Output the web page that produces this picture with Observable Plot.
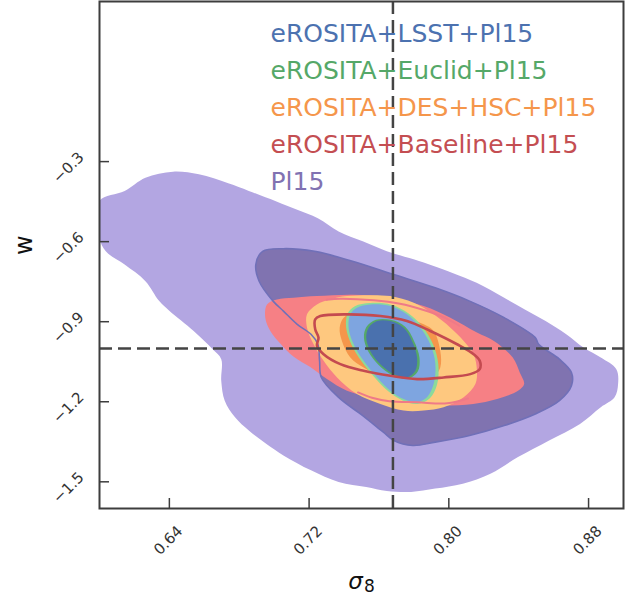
<!DOCTYPE html>
<html><head><meta charset="utf-8">
<script src="https://cdn.jsdelivr.net/npm/d3@7"></script>
<script src="https://cdn.jsdelivr.net/npm/@observablehq/plot@0.6"></script>
<style>body{margin:0;background:#fff} svg{display:block}</style>
</head><body><div id="chart"></div><script>
// axis ticks
const sigma8Ticks = [0.64, 0.72, 0.80, 0.88];
const wTicks = [-1.5, -1.2, -0.9, -0.6, -0.3];
// fiducial values
const fiducialSigma8 = [0.768];
const fiducialW = [-1.0];
// legend
const legendLabels = ["eROSITA+LSST+Pl15", "eROSITA+Euclid+Pl15", "eROSITA+DES+HSC+Pl15", "eROSITA+Baseline+Pl15", "Pl15"];
const legendColors = ["#4c72b0", "#55a868", "#f5964b", "#c44e52", "#8172b2"];

// contours [sigma8, w]
const pl15Outer = [[0.600,-0.447],[0.6144,-0.4098],[0.6263,-0.3601],[0.6421,-0.3377],[0.6569,-0.3477],[0.6737,-0.3813],[0.6855,-0.4098],[0.7013,-0.4497],[0.7132,-0.4808],[0.7250,-0.5119],[0.7369,-0.5616],[0.7507,-0.5989],[0.7645,-0.6362],[0.7803,-0.6673],[0.8021,-0.7171],[0.8159,-0.7544],[0.8317,-0.8104],[0.8435,-0.8539],[0.8554,-0.8974],[0.8672,-0.9472],[0.8771,-0.9969],[0.8870,-1.0342],[0.8959,-1.0778],[0.8969,-1.1337],[0.8949,-1.1835],[0.8870,-1.2208],[0.8751,-1.2830],[0.8574,-1.3452],[0.8396,-1.4074],[0.8238,-1.4696],[0.8080,-1.5069],[0.7922,-1.5255],[0.7784,-1.5380],[0.7645,-1.5342],[0.7527,-1.5193],[0.7369,-1.5007],[0.7211,-1.4571],[0.7053,-1.4012],[0.6954,-1.3576],[0.6855,-1.3079],[0.6776,-1.2581],[0.6717,-1.1959],[0.6697,-1.1213],[0.6697,-1.0405],[0.6648,-1.0031],[0.6539,-0.9347],[0.6401,-0.8601],[0.6342,-0.8228],[0.6263,-0.7482],[0.6144,-0.6860],[0.6036,-0.6362],[0.600,-0.5865]];
const pl15Inner = [[0.6895,-0.6860],[0.6934,-0.6362],[0.7053,-0.6263],[0.7231,-0.6362],[0.7448,-0.6735],[0.7685,-0.7233],[0.7922,-0.7731],[0.8119,-0.8228],[0.8317,-0.8850],[0.8495,-0.9596],[0.8514,-0.9845],[0.8633,-1.0405],[0.8702,-1.0902],[0.8702,-1.1400],[0.8633,-1.1959],[0.8495,-1.2457],[0.8317,-1.2892],[0.8119,-1.3265],[0.7922,-1.3514],[0.7793,-1.3638],[0.7685,-1.3452],[0.7625,-1.3141],[0.7507,-1.2519],[0.7369,-1.1835],[0.7270,-1.1089],[0.7260,-1.0467],[0.7250,-0.9845],[0.7211,-0.9472],[0.7132,-0.9099],[0.7053,-0.8601],[0.6994,-0.8228],[0.6914,-0.7482]];
const baselineOuter = [[0.6959,-0.8352],[0.7016,-0.8165],[0.7111,-0.8103],[0.7245,-0.8041],[0.7450,-0.7990],[0.7650,-0.8080],[0.7856,-0.8414],[0.8009,-0.8850],[0.8161,-0.9409],[0.8258,-0.9720],[0.8366,-1.0342],[0.8406,-1.0902],[0.8431,-1.1337],[0.8396,-1.1586],[0.8276,-1.1897],[0.8139,-1.2083],[0.7970,-1.2146],[0.7800,-1.2100],[0.7600,-1.1900],[0.7417,-1.1586],[0.7302,-1.1150],[0.7207,-1.0700],[0.7110,-1.0300],[0.7040,-0.9850],[0.6978,-0.9347],[0.6949,-0.8850]];
const baselineInner = [[0.7235,-0.8912],[0.7264,-0.8787],[0.7417,-0.8725],[0.7608,-0.8787],[0.7760,-0.8974],[0.7894,-0.9347],[0.8047,-0.9845],[0.8142,-1.0218],[0.8177,-1.0466],[0.8177,-1.0777],[0.8123,-1.0964],[0.7970,-1.1088],[0.7818,-1.1150],[0.7665,-1.1026],[0.7512,-1.0840],[0.7379,-1.0591],[0.7283,-1.0218],[0.7245,-0.9907],[0.7254,-0.9596],[0.7235,-0.9285]];
const baselineEdgeTop = [[0.7300,-0.8180],[0.7380,-0.8140],[0.7570,-0.8200],[0.7720,-0.8330],[0.7856,-0.8560],[0.7960,-0.8800],[0.8060,-0.9150]];
const baselineEdgeBottom = [[0.7480,-1.1650],[0.7560,-1.1850],[0.7660,-1.1980],[0.7820,-1.2020],[0.7990,-1.2060],[0.8110,-1.1880]];
const desOuter = [[0.7188,-0.8725],[0.7245,-0.8352],[0.7321,-0.8165],[0.7417,-0.8041],[0.7550,-0.8004],[0.7665,-0.8041],[0.7799,-0.8290],[0.7913,-0.8725],[0.8009,-0.9223],[0.8085,-0.9720],[0.8142,-1.0218],[0.8161,-1.0840],[0.8152,-1.1337],[0.8085,-1.1835],[0.7970,-1.2208],[0.7856,-1.2332],[0.7741,-1.2332],[0.7608,-1.2083],[0.7474,-1.1710],[0.7360,-1.1088],[0.7283,-1.0466],[0.7226,-0.9845],[0.7188,-0.9223]];
const desInner = [[0.7398,-0.8850],[0.7455,-0.8663],[0.7550,-0.8601],[0.7741,-0.8850],[0.7856,-0.9099],[0.7913,-0.9347],[0.7951,-1.0093],[0.7951,-1.0715],[0.7913,-1.1088],[0.7856,-1.1275],[0.7741,-1.1337],[0.7627,-1.1088],[0.7512,-1.0715],[0.7436,-1.0342],[0.7388,-0.9720],[0.7375,-0.9223]];
const lsstOuter = [[0.7436,-0.8725],[0.7474,-0.8476],[0.7550,-0.8352],[0.7665,-0.8414],[0.7760,-0.8725],[0.7837,-0.9223],[0.7894,-0.9845],[0.7923,-1.0591],[0.7913,-1.1337],[0.7875,-1.1835],[0.7818,-1.2021],[0.7741,-1.1897],[0.7665,-1.1586],[0.7589,-1.1088],[0.7512,-1.0466],[0.7455,-0.9845],[0.7426,-0.9223]];
const euclidOuter = [[0.7420,-0.8700],[0.7462,-0.8420],[0.7550,-0.8300],[0.7670,-0.8360],[0.7770,-0.8690],[0.7850,-0.9200],[0.7910,-0.9850],[0.7940,-1.0600],[0.7932,-1.1370],[0.7890,-1.1880],[0.7820,-1.2080],[0.7735,-1.1950],[0.7655,-1.1620],[0.7578,-1.1110],[0.7500,-1.0480],[0.7442,-0.9850],[0.7412,-0.9220]];
const lsstInner = [[0.7541,-0.9223],[0.7589,-0.8974],[0.7665,-0.8974],[0.7741,-0.9223],[0.7789,-0.9720],[0.7818,-1.0342],[0.7808,-1.0840],[0.7760,-1.1088],[0.7684,-1.0964],[0.7608,-1.0591],[0.7550,-1.0093],[0.7527,-0.9596]];
const euclidInner = [[0.7528,-0.9200],[0.7582,-0.8930],[0.7668,-0.8930],[0.7750,-0.9190],[0.7800,-0.9710],[0.7832,-1.0350],[0.7822,-1.0870],[0.7765,-1.1140],[0.7678,-1.1010],[0.7598,-1.0620],[0.7538,-1.0110],[0.7514,-0.9600]];

const fillShape = (pts, color) => Plot.line(pts, {fill: color, stroke: "none", curve: "catmull-rom-closed", clip: true});
const strokeShape = (pts, color, w, closed = true) => Plot.line(pts, {stroke: color, strokeWidth: w, fill: "none", curve: closed ? "catmull-rom-closed" : "catmull-rom", clip: true});
const axisColor = "#3d3d3d";

const chart = Plot.plot({
  width: 632, height: 598,
  marginLeft: 99, marginRight: 9, marginTop: 1, marginBottom: 90,
  x: {domain: [0.6, 0.9]},
  y: {domain: [-1.6, 0.3]},
  style: {fontFamily: "DejaVu Sans", background: "white"},
  marks: [
    fillShape(pl15Outer, "#b3a6e2"),
    fillShape(pl15Inner, "#8073b0"),
    fillShape(baselineOuter, "#f68085"),
    fillShape(desOuter, "#fec87f"),
    fillShape(desInner, "#f5964b"),
    fillShape(euclidOuter, "#8bda9b"),
    fillShape(lsstOuter, "#7ea5e0"),
    fillShape(euclidInner, "#55a868"),
    fillShape(lsstInner, "#4a71ae"),
    strokeShape(baselineEdgeTop, "#ef7a88", 2, false),
    strokeShape(baselineEdgeBottom, "#ef7a88", 2, false),
    strokeShape(pl15Inner, "#7070b8", 1.6),
    strokeShape(baselineInner, "#c44a50", 2.6),
    Plot.ruleX(fiducialSigma8, {stroke: "#444", strokeWidth: 2.5, strokeDasharray: "13,6"}),
    Plot.ruleY(fiducialW, {stroke: "#444", strokeWidth: 2.5, strokeDasharray: "13,6"}),
    Plot.frame({stroke: axisColor, strokeWidth: 2}),
    Plot.axisX(sigma8Ticks, {anchor: "bottom", tickSize: 10, dy: -10, tickFormat: () => "", label: null, stroke: axisColor, strokeWidth: 1.5}),
    Plot.axisY(wTicks, {anchor: "left", tickSize: 10, dx: 10, tickFormat: () => "", label: null, stroke: axisColor, strokeWidth: 1.5}),
    Plot.text(sigma8Ticks, {x: d => d, frameAnchor: "bottom", dy: 32, dx: -1, rotate: -45, text: d => d.toFixed(2), fontSize: 15, fill: "#333", textAnchor: "middle", lineAnchor: "middle"}),
    Plot.text(wTicks, {y: d => d, frameAnchor: "left", dx: -31, dy: 6, rotate: -45, text: d => "\u2212" + Math.abs(d).toFixed(1), fontSize: 15, fill: "#333", textAnchor: "middle", lineAnchor: "middle"}),
    Plot.text(["w"], {frameAnchor: "left", dx: -75, rotate: -90, text: d => d, fontSize: 24, fill: "#111", lineAnchor: "middle"}),
    Plot.text(["σ"], {frameAnchor: "bottom", dx: -6, dy: 80, text: d => d, fontSize: 23, fontStyle: "italic", fill: "#111", lineAnchor: "bottom"}),
    Plot.text(["8"], {frameAnchor: "bottom", dx: 8, dy: 83, text: d => d, fontSize: 17, fill: "#111", lineAnchor: "bottom"}),
    ...legendLabels.map((label, i) => Plot.text([label], {frameAnchor: "top-left", dx: 171, dy: 40.5 + 37.1 * i, text: d => d, fill: legendColors[i], fontSize: 25, textAnchor: "start", lineAnchor: "bottom"}))
  ]
});
document.getElementById("chart").appendChild(chart);
</script></body></html>
